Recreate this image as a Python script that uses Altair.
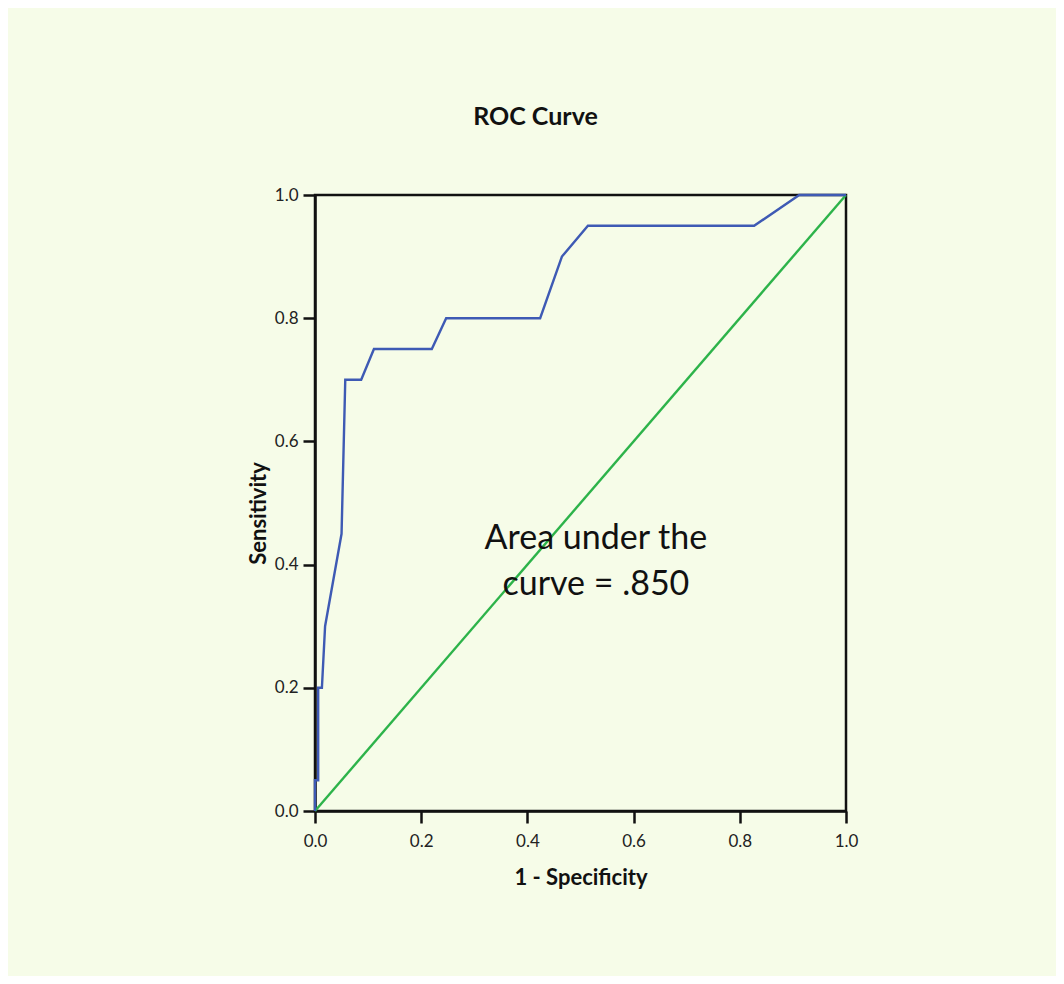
import altair as alt
import pandas as pd

# ROC curve points
fpr = [0.0, 0.0, 0.006, 0.006, 0.013, 0.019, 0.05, 0.057, 0.087, 0.111,
       0.22, 0.247, 0.424, 0.465, 0.514, 0.827, 0.912, 1.0]
tpr = [0.0, 0.05, 0.05, 0.2, 0.2, 0.3, 0.45, 0.7, 0.7, 0.75,
       0.75, 0.8, 0.8, 0.9, 0.95, 0.95, 1.0, 1.0]

ref_x = [0.0, 1.0]
ref_y = [0.0, 1.0]

ticks = [0.0, 0.2, 0.4, 0.6, 0.8, 1.0]
annotation = "Area under the\ncurve = .850"
ann_x = [0.529]
ann_y = [0.425]

FONT = "Lato"
BG = "#F6FCE8"

roc = pd.DataFrame({"x": fpr, "y": tpr, "i": list(range(len(fpr)))})
ref = pd.DataFrame({"x": ref_x, "y": ref_y, "i": [0, 1]})
ann = pd.DataFrame({"x": ann_x, "y": ann_y, "t": [annotation]})

xs = alt.Scale(domain=[0, 1], nice=False, zero=False)
ys = alt.Scale(domain=[0, 1], nice=False, zero=False)

xaxis = alt.Axis(values=ticks, format=".1f", title="1 - Specificity", grid=False,
                 titlePadding=18, labelFlush=False, labelPadding=10)
yaxis = alt.Axis(values=ticks, format=".1f", title="Sensitivity", grid=False,
                 titlePadding=4, titleY=318, labelFlush=False, labelPadding=5)

line_roc = alt.Chart(roc).mark_line(color="#3E5AB4", strokeWidth=2.4).encode(
    x=alt.X("x:Q", scale=xs, axis=xaxis),
    y=alt.Y("y:Q", scale=ys, axis=yaxis),
    order="i:Q",
)
line_ref = alt.Chart(ref).mark_line(color="#2DB34A", strokeWidth=2.4).encode(
    x=alt.X("x:Q", scale=xs),
    y=alt.Y("y:Q", scale=ys),
    order="i:Q",
)
text = alt.Chart(ann).mark_text(
    font=FONT, fontSize=34, align="center", baseline="alphabetic",
    lineBreak="\n", lineHeight=46, color="#111111"
).encode(x="x:Q", y="y:Q", text="t:N")

chart = alt.layer(line_ref, line_roc, text).properties(
    width=531, height=616,
    title=alt.TitleParams("ROC Curve", font=FONT, fontSize=25, fontWeight="bold",
                          color="#111111", anchor="middle", dx=-45, offset=36,
                          baseline="alphabetic"),
    padding={"left": 307, "top": 187, "right": 210, "bottom": 165},
    autosize=alt.AutoSizeParams(type="none"),
    background=BG,
).configure_view(
    stroke="#111111", strokeWidth=2.5, fill=BG
).configure_axis(
    domainColor="#111111", domainWidth=2.5, tickColor="#111111", tickWidth=2.5,
    tickSize=12, labelFont=FONT, labelFontSize=17, labelColor="#222222",
    titleFont=FONT, titleFontSize=22, titleFontWeight="bold", titleColor="#111111",
)

chart.save("out.html", embed_options={"renderer": "svg", "actions": False})
